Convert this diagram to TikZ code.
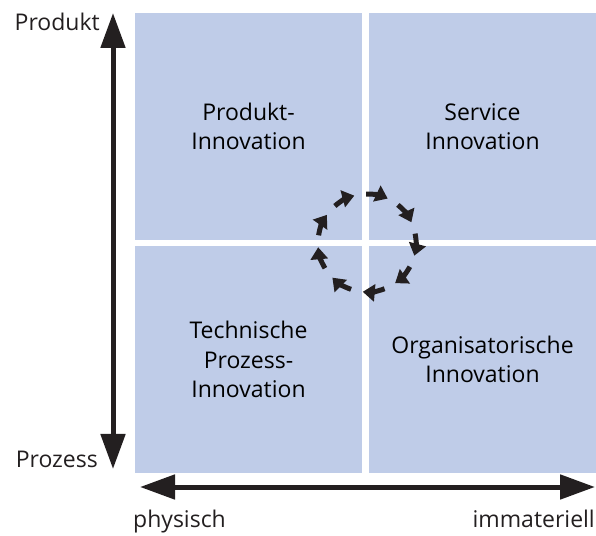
\documentclass[tikz,border=0pt]{standalone}
\usepackage{fontspec}
\setmainfont{Open Sans}
\usetikzlibrary{arrows.meta}
\definecolor{feldblau}{RGB}{191,204,232}
\definecolor{pfeil}{RGB}{35,31,32}
\begin{document}
\begin{tikzpicture}[x=1pt,y=1pt,
  feld/.style={fill=feldblau,minimum width=227pt,minimum height=227pt,inner sep=0pt,align=center,font=\fontsize{23}{29.5}\selectfont},
  achse/.style={draw=pfeil,line width=5pt,{Triangle[length=35pt,width=24pt]}-{Triangle[length=35pt,width=24pt]}},
  zyklus/.style={draw=pfeil,line width=5pt,-{Triangle[length=12pt,width=17pt]}},
  beschr/.style={inner sep=0pt,text=pfeil,font=\fontsize{23}{27}\selectfont}]
 \useasboundingbox (0,0) rectangle (596,535);
 \node[feld] (prodinno) at (248.5,408.5) {Produkt-\\Innovation};
 \node[feld] (servinno) at (482.5,408.5) {Service\\Innovation};
 \node[feld] (techinno) at (248.5,175.5) {Technische\\Prozess-\\Innovation};
 \node[feld] (orginno) at (482.5,175.5) {Organisatorische\\Innovation};
 \coordinate (yoben) at (113,522);
 \coordinate (yunten) at (113,66);
 \coordinate (xlinks) at (140,48);
 \coordinate (xrechts) at (595,48);
 \draw[achse] (yunten) -- (yoben);
 \draw[achse] (xlinks) -- (xrechts);
 \node[beschr,anchor=base east] (produkt) at (100,504) {Produkt};
 \node[beschr,anchor=base east] (prozess) at (98,68) {Prozess};
 \node[beschr,anchor=base west] (physisch) at (133,8) {physisch};
 \node[beschr,anchor=base east] (immat) at (595,8) {immateriell};
 \coordinate (kreis) at (367,292);
 \foreach \w in {118,78,...,-202}
  \draw[zyklus] ([shift={(\w+13:49)}]kreis) arc[start angle=\w+13,end angle=\w-13,radius=49];
\end{tikzpicture}
\end{document}
